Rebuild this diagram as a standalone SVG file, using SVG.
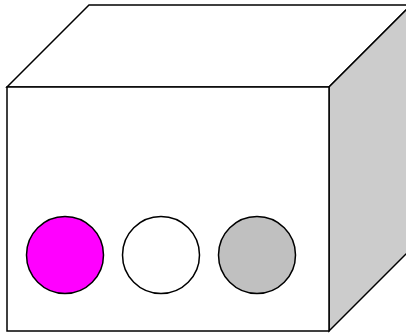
<svg xmlns="http://www.w3.org/2000/svg" width="406" height="334" viewBox="0 0 406 334">
<style>
.s{stroke:#000;stroke-width:1.5;stroke-linejoin:miter}
</style>
<rect width="406" height="334" fill="#fff"/>
<g id="box">
<polygon class="s" points="7,87 89,5 411,5 329,87" fill="#fff"/>
<polygon class="s" points="329,87 411,5 411,249 329,331" fill="#ccc"/>
<rect class="s" x="7" y="87" width="322" height="244" fill="#fff"/>
</g>
<g id="c1"><circle class="s" cx="65" cy="255" r="38.5" fill="#f0f"/></g>
<g id="c2"><circle class="s" cx="161" cy="255" r="38.5" fill="#fff"/></g>
<g id="c3"><circle class="s" cx="257" cy="255" r="38.5" fill="#c0c0c0"/></g>
</svg>
